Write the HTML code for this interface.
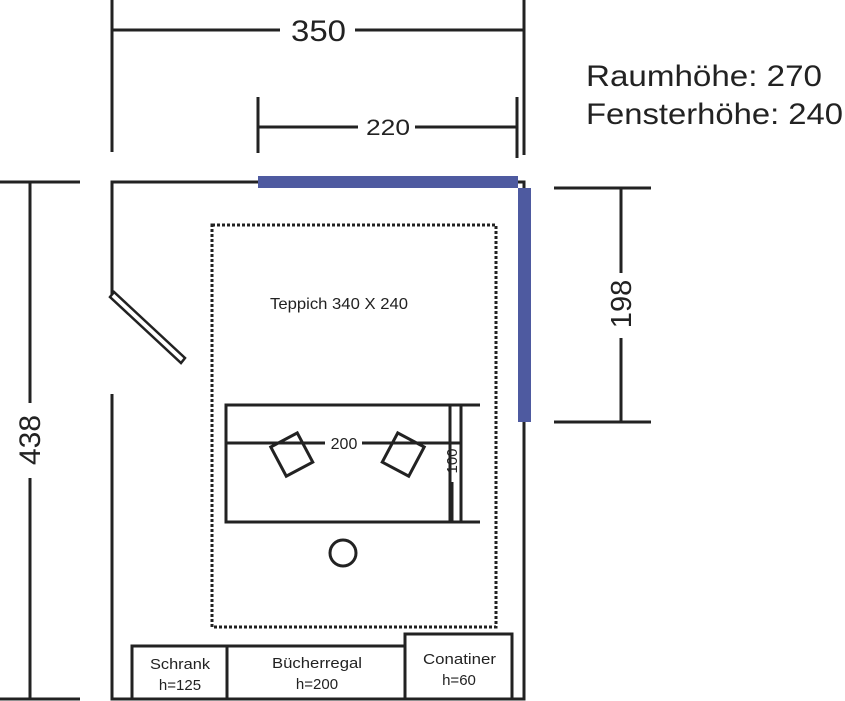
<!DOCTYPE html>
<html><head><meta charset="utf-8"><style>
html,body{margin:0;padding:0;background:#fff;}
svg{display:block;}
text{font-family:"Liberation Sans",sans-serif;fill:#222;}
</style></head><body>
<svg width="845" height="701" viewBox="0 0 845 701" xmlns="http://www.w3.org/2000/svg">
<g stroke="#222" stroke-width="3" fill="none">
<line x1="112" y1="0" x2="112" y2="152"/>
<line x1="524" y1="0" x2="524" y2="155"/>
<line x1="112" y1="30" x2="280" y2="30"/>
<line x1="355" y1="30" x2="524" y2="30"/>
<line x1="258" y1="97" x2="258" y2="153"/>
<line x1="517" y1="97" x2="517" y2="158"/>
<line x1="258" y1="127" x2="358" y2="127"/>
<line x1="415" y1="127" x2="517" y2="127"/>
<line x1="0" y1="182" x2="80" y2="182"/>
<line x1="0" y1="699" x2="80" y2="699"/>
<line x1="30" y1="182" x2="30" y2="403"/>
<line x1="30" y1="478" x2="30" y2="699"/>
<line x1="554" y1="188" x2="651" y2="188"/>
<line x1="554" y1="422" x2="651" y2="422"/>
<line x1="621" y1="188" x2="621" y2="273"/>
<line x1="621" y1="338" x2="621" y2="422"/>
<polyline points="112,295 112,182 524,182 524,699 112,699 112,394"/>
<polygon points="110,297 114,292 185,358 181,363" stroke-width="2.5"/>
<rect x="212" y="225" width="284" height="402" stroke-dasharray="3,2"/>
<polyline points="480,405 226,405 226,522 480,522"/>
<line x1="450" y1="405" x2="450" y2="522"/>
<line x1="461" y1="405" x2="461" y2="522"/>
<line x1="226" y1="443" x2="325" y2="443"/>
<line x1="362" y1="443" x2="461" y2="443"/>
<line x1="452" y1="482" x2="452" y2="522"/>
<rect x="277" y="438" width="30" height="33" transform="rotate(-28 292 455)"/>
<rect x="388" y="438" width="30" height="33" transform="rotate(28 403 455)"/>
<circle cx="343" cy="553" r="13"/>
<rect x="132" y="646" width="95" height="53"/>
<rect x="227" y="646" width="178" height="53"/>
<rect x="405" y="634" width="107" height="65"/>
</g>
<rect x="258" y="176" width="260" height="12" fill="#4e5aa0"/>
<rect x="518" y="188" width="13" height="234" fill="#4e5aa0"/>
<text x="291" y="41" font-size="30" textLength="55" lengthAdjust="spacingAndGlyphs">350</text>
<text x="366" y="135" font-size="22" textLength="44" lengthAdjust="spacingAndGlyphs">220</text>
<text x="586" y="86" font-size="30" textLength="236" lengthAdjust="spacingAndGlyphs">Raumhöhe: 270</text>
<text x="586" y="124" font-size="30" textLength="257" lengthAdjust="spacingAndGlyphs">Fensterhöhe: 240</text>
<text transform="translate(40 440) rotate(-90)" font-size="30" text-anchor="middle">438</text>
<text transform="translate(631 304) rotate(-90)" font-size="29" text-anchor="middle">198</text>
<text x="270" y="309" font-size="16" textLength="138" lengthAdjust="spacingAndGlyphs">Teppich 340 X 240</text>
<text x="344" y="449" font-size="16" text-anchor="middle">200</text>
<text transform="translate(457 461) rotate(-90)" font-size="15" text-anchor="middle">100</text>
<text x="150" y="669" font-size="15" textLength="60" lengthAdjust="spacingAndGlyphs">Schrank</text>
<text x="180" y="690" font-size="15" text-anchor="middle">h=125</text>
<text x="272" y="668" font-size="15" textLength="90" lengthAdjust="spacingAndGlyphs">Bücherregal</text>
<text x="317" y="689" font-size="15" text-anchor="middle">h=200</text>
<text x="423" y="664" font-size="15" textLength="73" lengthAdjust="spacingAndGlyphs">Conatiner</text>
<text x="459" y="685" font-size="15" text-anchor="middle">h=60</text>
</svg>
</body></html>
